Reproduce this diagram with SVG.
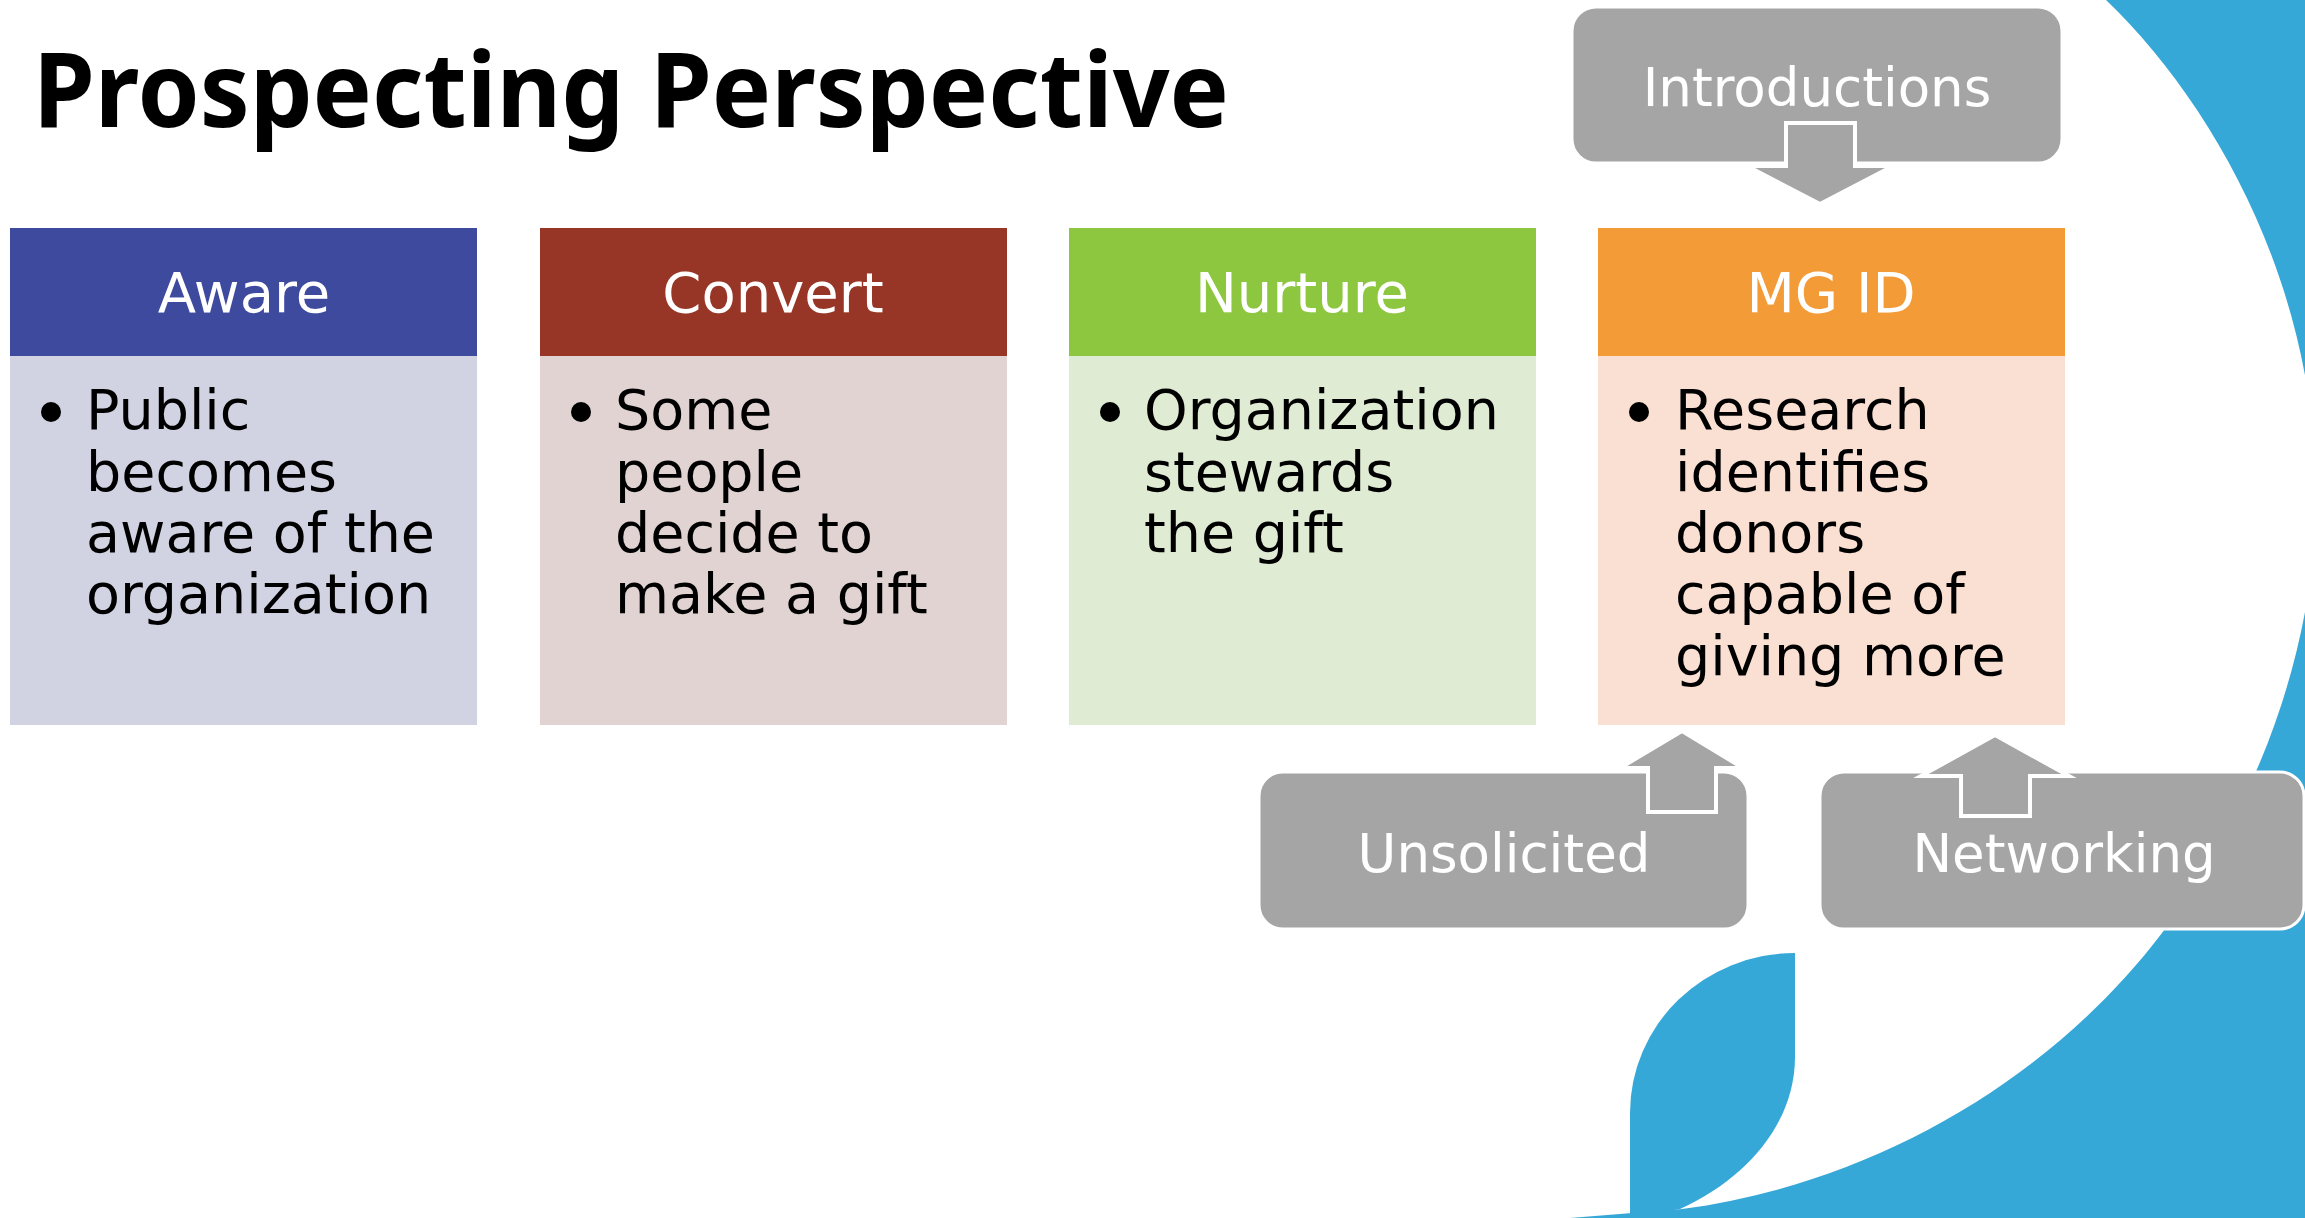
<svg xmlns="http://www.w3.org/2000/svg" width="2305" height="1218" viewBox="0 0 2305 1218">
<style>
.hd{font-family:"DejaVu Sans",Verdana,sans-serif;font-size:56px;fill:#fff;text-anchor:middle}
.gt{font-family:"DejaVu Sans",Verdana,sans-serif;font-size:53px;fill:#fff;text-anchor:middle}
.bd{font-family:"DejaVu Sans",Verdana,sans-serif;font-size:55.5px;fill:#000}
.gb{fill:#A5A5A5;stroke:#fff;stroke-width:3}
.ar{fill:#A5A5A5;stroke:#fff;stroke-width:4;stroke-linejoin:miter}
.bl{fill:#000}
</style>
<rect width="2305" height="1218" fill="#fff"/>
<g id="background">
<path fill="#36A8D8" d="M2106,0 C2214,103.5 2316,285 2316,495 C2316,650 2255.6,809.5 2162,933 C2048.4,1082.8 1868.1,1184.6 1682,1209 L1570,1218 L2305,1218 L2305,0 Z"/>
<path fill="#36A8D8" d="M1630,1218 V1113 A165,160 0 0 1 1795,953 V1057 C1795,1122 1748,1178 1680,1209 L1630,1218 Z"/>
</g>
<text x="33" y="127" font-family="'Noto Sans','Open Sans',sans-serif" font-weight="bold" font-size="104" textLength="1196" lengthAdjust="spacingAndGlyphs" fill="#000">Prospecting Perspective</text>
<g id="aware">
<rect x="10" y="228" width="467" height="128" fill="#3D4A9E"/>
<rect x="10" y="356" width="467" height="369" fill="#D1D3E3"/>
<text class="hd" x="244" y="312">Aware</text>
<circle class="bl" cx="51" cy="412" r="10"/>
<text class="bd"><tspan x="86" y="429">Public</tspan><tspan x="86" y="491">becomes</tspan><tspan x="86" y="552">aware of the</tspan><tspan x="86" y="613">organization</tspan></text>
</g>
<g id="convert">
<rect x="540" y="228" width="467" height="128" fill="#973626"/>
<rect x="540" y="356" width="467" height="369" fill="#E0D3D2"/>
<text class="hd" x="773" y="312">Convert</text>
<circle class="bl" cx="581" cy="412" r="10"/>
<text class="bd"><tspan x="615" y="429">Some</tspan><tspan x="615" y="491">people</tspan><tspan x="615" y="552">decide to</tspan><tspan x="615" y="613">make a gift</tspan></text>
</g>
<g id="nurture">
<rect x="1069" y="228" width="467" height="128" fill="#8DC63F"/>
<rect x="1069" y="356" width="467" height="369" fill="#DFEBD3"/>
<text class="hd" x="1302" y="312">Nurture</text>
<circle class="bl" cx="1110" cy="412" r="10"/>
<text class="bd"><tspan x="1144" y="429">Organization</tspan><tspan x="1144" y="491">stewards</tspan><tspan x="1144" y="552">the gift</tspan></text>
</g>
<g id="mgid">
<rect x="1598" y="228" width="467" height="128" fill="#F39B37"/>
<rect x="1598" y="356" width="467" height="369" fill="#F9E0D2"/>
<text class="hd" x="1831" y="312">MG ID</text>
<circle class="bl" cx="1639" cy="412" r="10"/>
<text class="bd"><tspan x="1675" y="429">Research</tspan><tspan x="1675" y="491">identifies</tspan><tspan x="1675" y="552">donors</tspan><tspan x="1675" y="613">capable of</tspan><tspan x="1675" y="675">giving more</tspan></text>
</g>
<g id="introductions">
<rect class="gb" x="1572" y="7" width="490" height="156" rx="24"/>
<text class="gt" x="1817" y="106">Introductions</text>
</g>
<g id="unsolicited">
<rect class="gb" x="1259" y="772" width="489" height="157" rx="24"/>
<text class="gt" x="1504" y="872">Unsolicited</text>
</g>
<g id="networking">
<rect class="gb" x="1820" y="772" width="484" height="157" rx="24"/>
<text class="gt" x="2064" y="872">Networking</text>
</g>
<g id="connectors">
<polygon class="ar" points="1786,123 1855,123 1855,166 1893,166 1820,204 1747,166 1786,166"/>
<polygon class="ar" points="1682,731 1743,768 1716,768 1716,812 1648,812 1648,768 1620,768"/>
<polygon class="ar" points="1995,735 2069,776 2030,776 2030,816 1961,816 1961,776 1921,776"/>
</g>
</svg>
